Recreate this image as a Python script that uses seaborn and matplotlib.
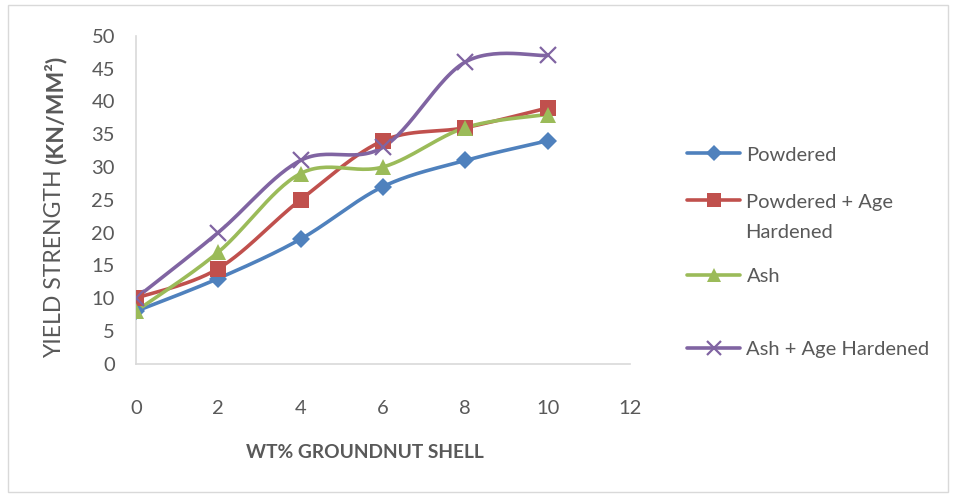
import numpy as np
import pandas as pd
import seaborn as sns
import matplotlib.pyplot as plt
from matplotlib.patches import Rectangle

# values
wt_pct = [0, 2, 4, 6, 8, 10]
powdered = [8, 13, 19, 27, 31, 34]
powdered_aged = [10, 14.5, 25, 34, 36, 39]
ash = [8, 17, 29, 30, 36, 38]
ash_aged = [10, 20, 31, 33, 46, 47]

series = ["Powdered", "Powdered + Age Hardened", "Ash", "Ash + Age Hardened"]
colors = ["#4F81BD", "#C0504D", "#9BBB59", "#8064A2"]
markers = ["D", "s", "^", "x"]
msizes = [9, 11.5, 12, 12]

df = pd.DataFrame({"wt": wt_pct * 4,
                   "ys": powdered + powdered_aged + ash + ash_aged,
                   "series": np.repeat(series, len(wt_pct))})


def smooth(x, y, n=30):
    # catmull-rom style curve like Excel's "smoothed line"
    x = np.asarray(x, float)
    y = np.asarray(y, float)
    px = np.concatenate([[x[0]], x, [x[-1]]])
    py = np.concatenate([[y[0]], y, [y[-1]]])
    xs, ys = [], []
    t = np.linspace(0, 1, n)
    for i in range(1, len(px) - 2):
        p0, p1, p2, p3 = [np.array([px[j], py[j]]) for j in (i - 1, i, i + 1, i + 2)]
        c1 = p1 + (p2 - p0) / 6
        c2 = p2 - (p3 - p1) / 6
        b = ((1 - t) ** 3)[:, None] * p1 + (3 * (1 - t) ** 2 * t)[:, None] * c1 \
            + (3 * (1 - t) * t ** 2)[:, None] * c2 + (t ** 3)[:, None] * p2
        xs.append(b[:, 0])
        ys.append(b[:, 1])
    return np.concatenate(xs), np.concatenate(ys)


sns.set_style("white")
plt.rcParams["font.family"] = ["Lato", "DejaVu Sans"]
grey = "#595959"

fig = plt.figure(figsize=(9.56, 4.97), dpi=100)
ax = fig.add_axes([0.142, 0.268, 0.517, 0.66])

handles = []
for name, col, mk, ms in zip(series, colors, markers, msizes):
    sub = df[df["series"] == name]
    sx, sy = smooth(sub["wt"], sub["ys"])
    sns.lineplot(x=sx, y=sy, ax=ax, color=col, lw=2.6, sort=False, estimator=None)
    mew = 1.6 if mk == "x" else 0
    ax.plot(sub["wt"], sub["ys"], ls="none", marker=mk, color=col, ms=ms, mew=mew, zorder=3)
    h, = ax.plot([], [], color=col, lw=2.6, marker=mk, ms=ms * 0.85, mew=mew)
    handles.append(h)

ax.set_xlim(0, 12)
ax.set_ylim(0, 50)
ax.set_xticks(range(0, 13, 2))
ax.set_yticks(range(0, 51, 5))
ax.set_xlabel("")
ax.set_ylabel("")
ax.tick_params(colors=grey, labelsize=14.5, length=0)
ax.tick_params(axis="x", pad=26)
ax.tick_params(axis="y", pad=15)
for s in ["top", "right"]:
    ax.spines[s].set_visible(False)
for s in ["left", "bottom"]:
    ax.spines[s].set_color("#D9D9D9")
    ax.spines[s].set_linewidth(1.2)

fig.text(365 / 956, 1 - 453 / 497, "WT% GROUNDNUT SHELL", ha="center", va="center",
         fontsize=13.8, fontweight="bold", color=grey)

# y label: plain part then bold part
t1 = fig.text(55 / 956, 1 - 358 / 497, "YIELD STRENGTH ", rotation=90, rotation_mode="anchor",
              ha="left", va="center", fontsize=16.6, color=grey)
fig.canvas.draw()
bb = t1.get_window_extent(fig.canvas.get_renderer())
fig.text(55 / 956, bb.y1 / fig.bbox.height, "(KN/MM²)", rotation=90, rotation_mode="anchor",
         ha="left", va="center", fontsize=16.6, color=grey, fontweight="bold")

# legend entries placed one by one, like Excel's spread-out legend
leg_y = [155, 202, 276, 349]
leg_labels = ["Powdered", "Powdered + Age", "Ash", "Ash + Age Hardened"]
for h, lab, yy in zip(handles, leg_labels, leg_y):
    fig.legend([h], [lab], loc="center left", bbox_to_anchor=(677 / 956, 1 - yy / 497),
               frameon=False, fontsize=14.5, labelcolor=grey, handlelength=2.65,
               handletextpad=0.3, borderpad=0)
fig.text(745 / 956, 1 - 232 / 497, "Hardened", ha="left", va="center", fontsize=14.5, color=grey)

fig.patches.append(Rectangle((8 / 956, 5 / 497), 940 / 956, 487 / 497, transform=fig.transFigure,
                             fill=False, edgecolor="#D9D9D9", lw=1))

fig.savefig("out.png", dpi=100, facecolor="white")
